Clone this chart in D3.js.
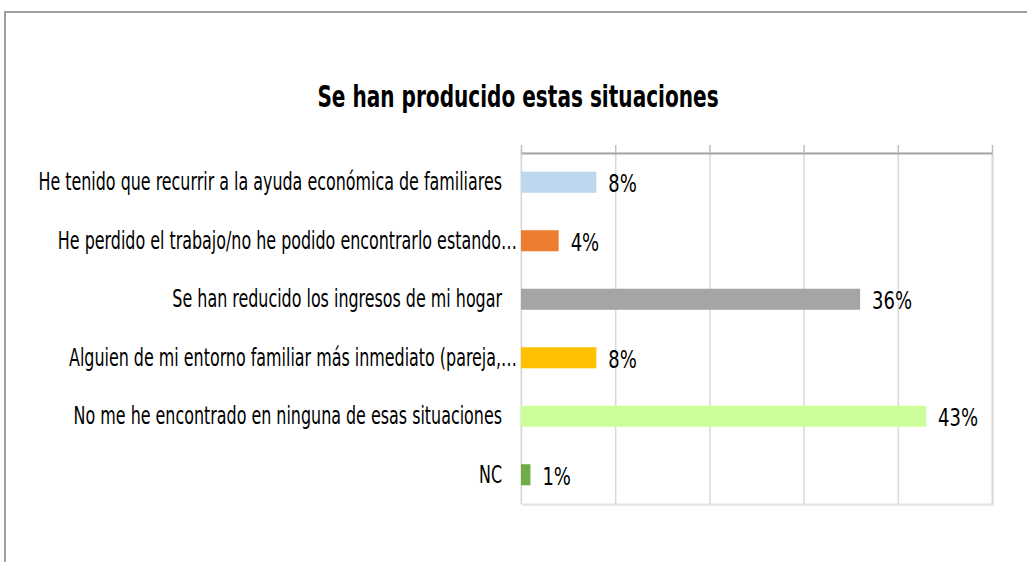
<!DOCTYPE html>
<html>
<head>
<meta charset="utf-8">
<script src="https://cdn.jsdelivr.net/npm/d3@7"></script>
<style>
	body { margin: 0; background: #fff; }
	svg { display: block; font-family: 'DejaVu Sans Condensed', 'Liberation Sans Narrow', sans-serif; }
</style>
</head>
<body>
<svg id="chart"></svg>
<script>
// chart data
const title = 'Se han producido estas situaciones';
const categories = [
	'He tenido que recurrir a la ayuda económica de familiares',
	'He perdido el trabajo/no he podido encontrarlo estando…',
	'Se han reducido los ingresos de mi hogar',
	'Alguien de mi entorno familiar más inmediato (pareja,…',
	'No me he encontrado en ninguna de esas situaciones',
	'NC'
];
const values = [0.08, 0.04, 0.36, 0.08, 0.43, 0.01];
const valueLabels = ['8%', '4%', '36%', '8%', '43%', '1%'];
const barColors = ['#bdd7ee', '#ed7d31', '#a5a5a5', '#ffc000', '#ccff99', '#70ad47'];
const xTicks = [0, 0.1, 0.2, 0.3, 0.4, 0.5];

const width = 1027;
const height = 562;
const plot = { left: 521, right: 992, top: 153, bottom: 504 };

const svg = d3.select('#chart')
	.attr('width', width)
	.attr('height', height);

// the source font is tall and narrow, so squeeze text horizontally
function squeezed(sel, px, py, sx) {
	return sel.attr('transform', `translate(${px},${py}) scale(${sx},1)`);
}

// outer frame (only top and left visible)
svg.append('path')
	.attr('d', `M5,${height} L5,12 L${width},12`)
	.attr('fill', 'none')
	.attr('stroke', '#a0a0a0')
	.attr('stroke-width', 2);

svg.append('text')
	.call(squeezed, 518, 107, 0.744)
	.attr('text-anchor', 'middle')
	.attr('font-size', 30)
	.attr('font-weight', 'bold')
	.attr('fill', '#000')
	.text(title);

let x = d3.scaleLinear()
	.domain([0, 0.5])
	.range([plot.left, plot.right]);

let y = d3.scaleBand()
	.domain(categories)
	.range([plot.top, plot.bottom])
	.paddingInner(0.64)
	.paddingOuter(0.32);

// plot area with a soft shadow
svg.append('rect')
	.attr('x', plot.left + 2)
	.attr('y', plot.top + 2)
	.attr('width', plot.right - plot.left)
	.attr('height', plot.bottom - plot.top)
	.attr('fill', '#e8e8e8');
svg.append('rect')
	.attr('x', plot.left)
	.attr('y', plot.top)
	.attr('width', plot.right - plot.left)
	.attr('height', plot.bottom - plot.top)
	.attr('fill', '#fff')
	.attr('stroke', '#e0e0e0');

// gridlines
svg.append('g')
	.attr('transform', `translate(0,${plot.top})`)
	.call(d3.axisTop(x).tickValues(xTicks).tickSize(-(plot.bottom - plot.top)).tickFormat(''))
	.call(g => g.select('.domain').remove())
	.call(g => g.selectAll('line').attr('stroke', '#d9d9d9').attr('stroke-width', 1.5));

// top axis with outward ticks
svg.append('g')
	.attr('transform', `translate(0,${plot.top})`)
	.call(d3.axisTop(x).tickValues(xTicks).tickSize(8).tickSizeOuter(0).tickFormat(''))
	.call(g => g.select('.domain').attr('stroke', '#a6a6a6').attr('stroke-width', 2))
	.call(g => g.selectAll('line').attr('stroke', '#bfbfbf').attr('stroke-width', 1.5));

// bars
svg.append('g')
	.selectAll('rect')
	.data(values)
	.enter()
	.append('rect')
	.attr('x', x(0))
	.attr('y', (d, i) => y(categories[i]))
	.attr('width', d => x(d) - x(0))
	.attr('height', y.bandwidth())
	.attr('fill', (d, i) => barColors[i]);

// value labels
svg.append('g')
	.selectAll('text')
	.data(values)
	.enter()
	.append('text')
	.each(function(d, i) {
		squeezed(d3.select(this), x(d) + 12, y(categories[i]) + y.bandwidth() / 2 + 10, 0.8);
	})
	.attr('font-size', 25)
	.attr('fill', '#000')
	.text((d, i) => valueLabels[i]);

// category labels
svg.append('g')
	.selectAll('text')
	.data(categories)
	.enter()
	.append('text')
	.each(function(d) {
		let px = d.endsWith('…') ? x(0) - 4 : x(0) - 19;
		squeezed(d3.select(this), px, y(d) + y.bandwidth() / 2 + 8, 0.737);
	})
	.attr('text-anchor', 'end')
	.attr('font-size', 24)
	.attr('fill', '#000')
	.text(d => d);
</script>
</body>
</html>
